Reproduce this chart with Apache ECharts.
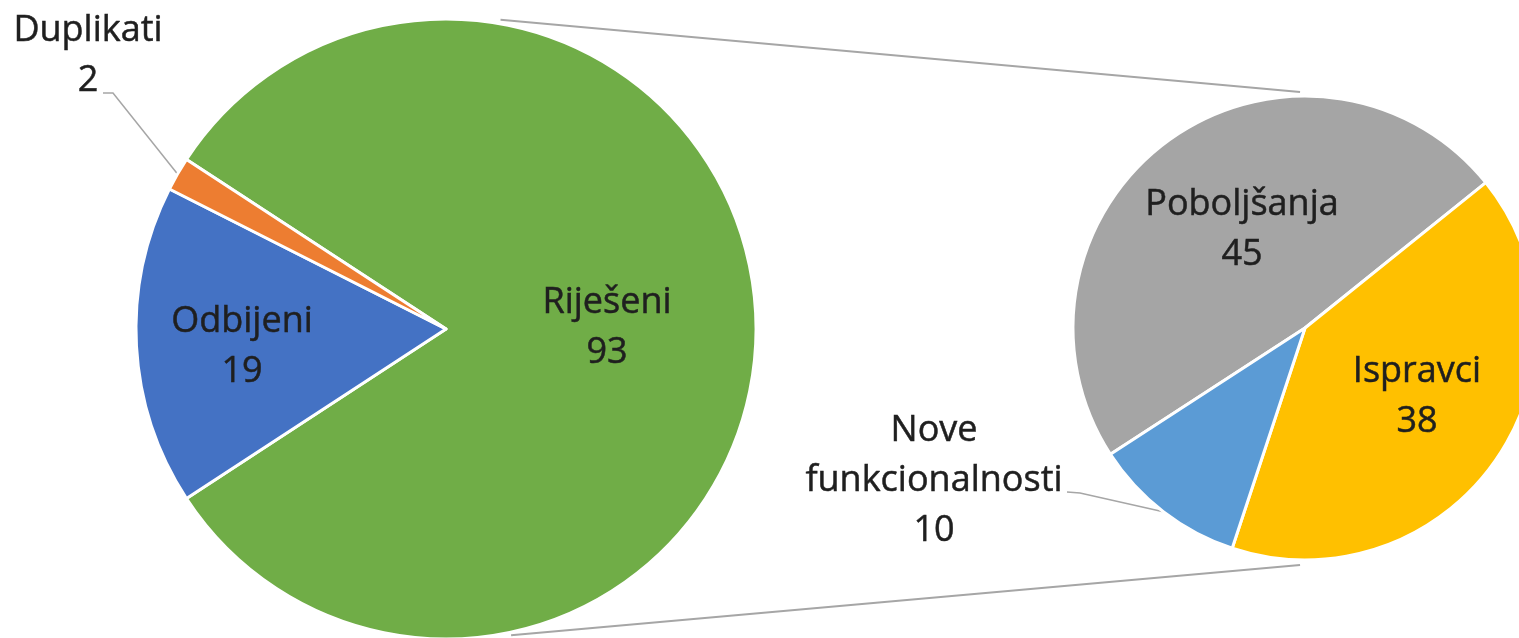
<!DOCTYPE html>
<html>
<head>
<meta charset="utf-8">
<title>Pie of pie</title>
<script src="https://cdn.jsdelivr.net/npm/echarts@6/dist/echarts.min.js"></script>
<style>
html,body{margin:0;padding:0;background:#fff;}
#pieChart{width:1519px;height:638px;}
</style>
</head>
<body>
<div id="pieChart"></div>
<script>
var mainNames = ['Riješeni', 'Odbijeni', 'Duplikati'];
var mainValues = [93, 19, 2];
var subNames = ['Poboljšanja', 'Ispravci', 'Nove funkcionalnosti'];
var subValues = [45, 38, 10];

var mainColors = ['#70ad47', '#4472c4', '#ed7d31'];
var subColors = ['#a5a5a5', '#ffc000', '#5b9bd5'];

// geometrija dvije pite
var bigPie = {cx: 446, cy: 329, r: 310};
var smallPie = {cx: 1305, cy: 328, r: 232};
// sredista labela
var mainLabelPos = [[607, 328], [242, 347], [88, 56]];
var subLabelPos = [[1242, 230], [1417, 397], [934, 481]];

function edgePoint(pie, deg, extra){
	var a = deg * Math.PI / 180;
	return [pie.cx + (pie.r + extra) * Math.cos(a), pie.cy - (pie.r + extra) * Math.sin(a)];
}

function buildData(names, values, colors, outsideIdx){
	return names.map(function(n, i){
		var item = {name: n, value: values[i], itemStyle: {color: colors[i]}};
		if(i == outsideIdx){
			item.label = {position: 'outside'};
			item.labelLine = {show: true};
		}else{
			item.label = {position: 'inside'};
			item.labelLine = {show: false};
		}
		return item;
	});
}

function sum(arr){
	return arr.reduce(function(a, b){ return a + b; }, 0);
}

pieOfPie_chart('pieChart');
function pieOfPie_chart(id){
	var myChart = echarts.init(document.getElementById(id));
	var labelStyle = {
		show: true,
		formatter: function(p){ return p.name.replace(' ', '\n') + '\n' + p.value; },
		color: '#1f1f1f',
		fontFamily: 'Open Sans',
		fontSize: 36,
		lineHeight: 50,
		align: 'center',
		textBorderColor: '#1f1f1f',
		textBorderWidth: 0.5
	};
	var lineStyle = {color: '#a6a6a6', width: 1.5};

	// spojne linije izmedu pita
	var c1 = edgePoint(bigPie, 80, 4), c2 = edgePoint(smallPie, 91.2, 4);
	var c3 = edgePoint(bigPie, -78, 3), c4 = edgePoint(smallPie, -91.2, 5);

	var option = {
		backgroundColor: '#fff',
		animation: false,
		graphic: [
			{type: 'line', shape: {x1: c1[0], y1: c1[1], x2: c2[0], y2: c2[1]}, style: {stroke: '#a6a6a6', lineWidth: 2}},
			{type: 'line', shape: {x1: c3[0], y1: c3[1], x2: c4[0], y2: c4[1]}, style: {stroke: '#a6a6a6', lineWidth: 2}}
		],
		series: [{
			name: 'Ukupno',
			type: 'pie',
			center: [bigPie.cx, bigPie.cy],
			radius: bigPie.r,
			startAngle: mainValues[0] / sum(mainValues) * 180,
			avoidLabelOverlap: false,
			itemStyle: {borderColor: '#fff', borderWidth: 3},
			label: labelStyle,
			labelLine: {lineStyle: lineStyle, smooth: false},
			labelLayout: function(params){
				var p = mainLabelPos[params.dataIndex];
				var res = {x: p[0], y: p[1], align: 'center', verticalAlign: 'middle'};
				if(params.dataIndex == 2 && params.labelLinePoints){
					var pts = params.labelLinePoints;
					res.labelLinePoints = [pts[0], [p[0] + 25, p[1] + 37], [p[0] + 15, p[1] + 37]];
				}
				return res;
			},
			data: buildData(mainNames, mainValues, mainColors, 2)
		}, {
			name: 'Riješeni',
			type: 'pie',
			center: [smallPie.cx, smallPie.cy],
			radius: smallPie.r,
			startAngle: 213,
			avoidLabelOverlap: false,
			itemStyle: {borderColor: '#fff', borderWidth: 3},
			label: labelStyle,
			labelLine: {lineStyle: lineStyle, smooth: false},
			labelLayout: function(params){
				var p = subLabelPos[params.dataIndex];
				var res = {x: p[0], y: p[1], align: 'center', verticalAlign: 'middle'};
				if(params.dataIndex == 2 && params.labelLinePoints){
					var pts = params.labelLinePoints;
					res.labelLinePoints = [pts[0], [p[0] + 146, p[1] + 12], [p[0] + 133, p[1] + 11]];
				}
				return res;
			},
			data: buildData(subNames, subValues, subColors, 2)
		}]
	};
	myChart.setOption(option);
}
</script>
</body>
</html>
